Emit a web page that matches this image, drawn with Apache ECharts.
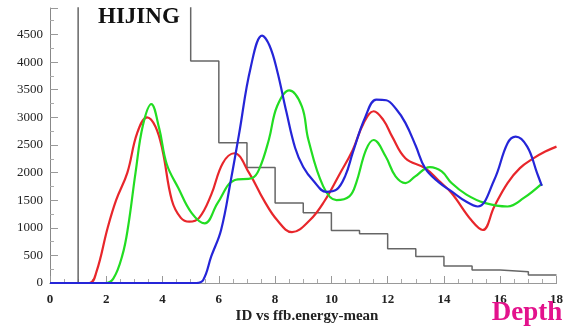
<!DOCTYPE html>
<html>
<head>
<meta charset="utf-8">
<script src="https://cdn.jsdelivr.net/npm/echarts@6/dist/echarts.min.js"></script>
<style>html,body{margin:0;padding:0;background:#fff;}#c{width:566px;height:326px;}</style>
</head>
<body>
<div id="c"></div>
<script>
// ---- data ----
const binEdges = [0,1,2,3,4,5,6,7,8,9,10,11,12,13,14,15,16,17,18];
const binCounts = [0,6000,6000,6000,6000,4020,2540,2090,1450,1270,950,890,620,480,310,235,205,145];
const redPts = [[0,0],[1.4,0],[1.65,200],[2.05,1000],[2.35,1500],[2.75,2000],[3.1,2720],[3.45,3000],[3.75,2830],[4.0,2400],[4.33,1500],[4.65,1180],[4.95,1110],[5.3,1180],[5.73,1600],[6.14,2170],[6.55,2350],[7.08,1990],[7.6,1500],[8.07,1140],[8.6,920],[9.24,1140],[9.75,1480],[10.3,1980],[10.76,2410],[11.15,2900],[11.5,3110],[11.85,2950],[12.16,2650],[12.63,2260],[13.33,2080],[13.8,1860],[14.27,1630],[14.97,1140],[15.38,960],[15.79,1385],[16.26,1810],[16.7,2080],[17.19,2260],[17.6,2380],[18,2470]];
const greenPts = [[0,0],[1.95,0],[2.25,80],[2.57,500],[2.77,1000],[3.04,2000],[3.3,2850],[3.6,3240],[3.88,2800],[4.15,2150],[4.56,1720],[5.03,1270],[5.5,1080],[5.96,1450],[6.55,1860],[7.19,1900],[7.45,2080],[7.78,2600],[8.07,3200],[8.5,3490],[8.95,3200],[9.18,2600],[9.71,1750],[10.18,1500],[10.64,1570],[10.88,1810],[11.23,2410],[11.5,2590],[11.93,2290],[12.28,1930],[12.63,1810],[12.98,1930],[13.5,2100],[13.92,2020],[14.27,1810],[14.8,1600],[15.44,1450],[16.26,1385],[16.84,1540],[17.48,1800]];
const bluePts = [[0,0],[5.2,0],[5.45,60],[5.73,480],[6.08,960],[6.43,1870],[6.72,2700],[7.13,3900],[7.54,4480],[7.8,4300],[8.07,3850],[8.4,3100],[8.71,2450],[9.0,2100],[9.36,1850],[9.82,1650],[10.18,1690],[10.5,1950],[10.76,2360],[11.2,3000],[11.6,3320],[11.95,3310],[12.3,3150],[12.63,2900],[13.0,2480],[13.33,2080],[13.8,1830],[14.27,1660],[14.8,1470],[15.2,1385],[15.79,1870],[16.26,2530],[16.55,2650],[16.96,2470],[17.31,1990],[17.48,1760]];
const xTicks = [0,2,4,6,8,10,12,14,16,18];
const yTicks = [0,500,1000,1500,2000,2500,3000,3500,4000,4500];

// build step outline from bins
const histPts = [];
for (let i = 0; i < binCounts.length; i++) {
  histPts.push([binEdges[i], binCounts[i]]);
  histPts.push([binEdges[i+1], binCounts[i]]);
}

const serif = '"Liberation Serif","DejaVu Serif",serif';
const chart = echarts.init(document.getElementById('c'), null, {renderer:'canvas'});
const lineS = (pts, color) => ({
  type:'line', data: pts, smooth: 0.4, symbol:'none', clip:true,
  lineStyle:{color:color, width:2.2}, z:3
});
chart.setOption({
  animation:false,
  backgroundColor:'#fff',
  grid:{left:50, right:3, top:8, bottom:43, containLabel:false},
  xAxis:[{
    type:'value', min:0, max:18, interval:2,
    axisLine:{show:true, onZero:false, lineStyle:{color:'#888', width:1}},
    axisTick:{show:true, inside:true, length:7, lineStyle:{color:'#999'}},
    minorTick:{show:true, splitNumber:4, length:4, lineStyle:{color:'#aaa'}},
    splitLine:{show:false},
    axisLabel:{margin:10, fontFamily:serif, fontWeight:'bold', fontSize:13, color:'#222',
      showMaxLabel:true,
      formatter: v => xTicks.includes(v) ? String(v) : ''}
  },{
    type:'value', position:'top', min:0, max:18,
    axisLine:{show:true, lineStyle:{color:'#999', width:1}},
    axisTick:{show:false}, axisLabel:{show:false}, splitLine:{show:false}
  }],
  yAxis:{
    type:'value', min:0, max:4980, interval:500,
    axisLine:{show:true, lineStyle:{color:'#888', width:1}},
    axisTick:{show:true, inside:true, length:8, lineStyle:{color:'#999'}},
    minorTick:{show:true, splitNumber:2, length:4, lineStyle:{color:'#aaa'}},
    splitLine:{show:false},
    axisLabel:{margin:7, fontFamily:serif, fontSize:13, color:'#222', showMaxLabel:false,
      formatter: v => yTicks.includes(v) ? String(v) : ''}
  },
  series:[
    {type:'line', data:histPts, symbol:'none', clip:true,
      lineStyle:{color:'#666', width:1.5}, z:2},
    lineS(redPts, '#e8262b'),
    lineS(greenPts, '#22dd22'),
    lineS(bluePts, '#2525d8')
  ],
  graphic:[
    {type:'text', left:98, top:6, z:10, style:{text:'HIJING', font:'bold 23px '+serif, fill:'#111'}},
    {type:'text', x:307, y:316, z:10, style:{text:'ID vs ffb.energy-mean', font:'bold 15px '+serif, fill:'#222', textAlign:'center', textVerticalAlign:'middle'}},
    {type:'text', x:527, y:313, z:10, style:{text:'Depth', font:'bold 27px '+serif, fill:'#e3128c', textAlign:'center', textVerticalAlign:'middle'}}
  ]
});
</script>
</body>
</html>
